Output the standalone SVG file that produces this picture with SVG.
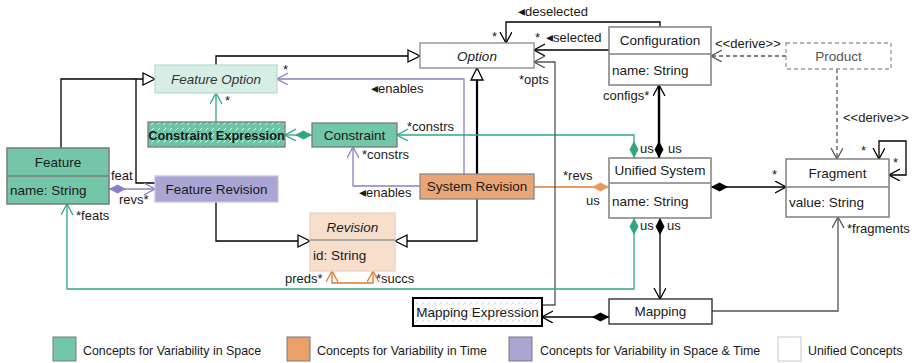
<svg xmlns="http://www.w3.org/2000/svg" width="918" height="363" viewBox="0 0 918 363">
<defs>
<style>
text{font-family:"Liberation Sans",Arial,sans-serif;font-size:13.5px;fill:#1a1a1a}
.c{text-anchor:middle}
.i{font-style:italic}
.b{font-weight:bold;font-size:12.8px}
.lbl{font-size:13px}
.tri{font-family:"DejaVu Sans",sans-serif;font-size:14px}
.leg{font-size:12.4px}
.ln{fill:none;stroke-width:1.3}
.k{stroke:#000}
.g{stroke:#2fa882}
.p{stroke:#8880c8}
.o{stroke:#e07a30}
.gr{stroke:#555}
</style>
<marker id="ak" markerUnits="userSpaceOnUse" markerWidth="12" markerHeight="14" refX="11" refY="6" orient="auto-start-reverse"><path d="M0,0 L11,6 L0,12" fill="none" stroke="#000" stroke-width="1.3"/></marker>
<marker id="ag" markerUnits="userSpaceOnUse" markerWidth="12" markerHeight="14" refX="11" refY="6" orient="auto-start-reverse"><path d="M0,0 L11,6 L0,12" fill="none" stroke="#2fa882" stroke-width="1.3"/></marker>
<marker id="ap" markerUnits="userSpaceOnUse" markerWidth="12" markerHeight="14" refX="11" refY="6" orient="auto-start-reverse"><path d="M0,0 L11,6 L0,12" fill="none" stroke="#8880c8" stroke-width="1.3"/></marker>
<marker id="ao" markerUnits="userSpaceOnUse" markerWidth="12" markerHeight="14" refX="11" refY="6" orient="auto-start-reverse"><path d="M0,0 L11,6 L0,12" fill="none" stroke="#e07a30" stroke-width="1.3"/></marker>
<marker id="agr" markerUnits="userSpaceOnUse" markerWidth="12" markerHeight="14" refX="11" refY="6" orient="auto-start-reverse"><path d="M0,0 L11,6 L0,12" fill="none" stroke="#555" stroke-width="1.3"/></marker>
<marker id="tr" markerUnits="userSpaceOnUse" markerWidth="15" markerHeight="16" refX="13" refY="7" orient="auto"><path d="M1,1 L13,7 L1,13 Z" fill="#fff" stroke="#000" stroke-width="1.3"/></marker>
<marker id="dk" markerUnits="userSpaceOnUse" markerWidth="18" markerHeight="12" refX="0" refY="5.5" orient="auto"><path d="M0,5.5 L8.5,1 L17,5.5 L8.5,10 Z" fill="#000"/></marker>
<marker id="dg" markerUnits="userSpaceOnUse" markerWidth="18" markerHeight="12" refX="0" refY="5.5" orient="auto"><path d="M0,5.5 L8.5,1 L17,5.5 L8.5,10 Z" fill="#2fa882"/></marker>
<marker id="dp" markerUnits="userSpaceOnUse" markerWidth="18" markerHeight="12" refX="0" refY="5.5" orient="auto"><path d="M0,5.5 L8.5,1 L17,5.5 L8.5,10 Z" fill="#8880c8"/></marker>
<marker id="do" markerUnits="userSpaceOnUse" markerWidth="18" markerHeight="12" refX="0" refY="5.5" orient="auto"><path d="M0,5.5 L8.5,1 L17,5.5 L8.5,10 Z" fill="#e8995e"/></marker>
<pattern id="hg" width="6" height="6" patternUnits="userSpaceOnUse"><rect width="6" height="6" fill="#6fc4a6"/><line x1="1.5" y1="4.5" x2="4" y2="2" stroke="#fff" stroke-width="0.9"/></pattern>
<pattern id="hw" width="6" height="6" patternUnits="userSpaceOnUse"><rect width="6" height="6" fill="#fff"/><line x1="1.5" y1="4.5" x2="4" y2="2" stroke="#c8c8c8" stroke-width="0.9"/></pattern>
</defs>
<rect width="918" height="363" fill="#fff"/>

<g id="connectors">
<path class="ln k" d="M61,148 V79 H155" marker-end="url(#tr)"/>
<path class="ln k" d="M155,183 H136 V79"/>
<path class="ln k" d="M216,65 V56 H420" marker-end="url(#tr)"/>
<path class="ln k" d="M216,202 V241 H310" marker-end="url(#tr)"/>
<path class="ln k" d="M477,199 V241 H395" marker-end="url(#tr)"/>
<path class="ln k" style="stroke-width:2.2" d="M477,174 V68" marker-end="url(#tr)"/>
<path class="ln p" d="M464,174 V79 H277" marker-end="url(#ap)"/>
<path class="ln g" d="M216,122 V93" marker-end="url(#ag)"/>
<path class="ln g" d="M312,135 H285" marker-start="url(#dg)" marker-end="url(#ag)"/>
<path class="ln g" d="M634,158 V135 H397" marker-start="url(#dg)" marker-end="url(#ag)"/>
<path class="ln p" d="M420,186 H353 V147" marker-end="url(#ap)"/>
<path class="ln p" d="M109,189 H155" marker-start="url(#dp)" marker-end="url(#ap)"/>
<path class="ln o" d="M332,271 V283 H373 V271" marker-start="url(#ao)" marker-end="url(#ao)"/>
<path class="ln o" d="M609,187 H534" marker-start="url(#do)"/>
<path class="ln k" style="stroke-width:2.4" d="M659,158 V85" marker-start="url(#dk)" marker-end="url(#ak)"/>
<path class="ln k" d="M660,27 V22 H506 V43" marker-end="url(#ak)"/>
<path class="ln k" d="M609,50 H534" marker-end="url(#ak)"/>
<path class="ln gr" d="M542,305 H555 V62 H534" marker-end="url(#agr)"/>
<path class="ln gr" style="stroke-dasharray:4,3" d="M786,56 H711" marker-end="url(#agr)"/>
<path class="ln gr" style="stroke-dasharray:4,3" d="M837,69 V159" marker-end="url(#agr)"/>
<path class="ln k" d="M879,159 V141 H906 V175 H889" marker-start="url(#ak)" marker-end="url(#ak)"/>
<path class="ln k" d="M711,187 H786" marker-start="url(#dk)" marker-end="url(#ak)"/>
<path class="ln g" d="M634,218 V289 H67 V204" marker-start="url(#dg)" marker-end="url(#ag)"/>
<path class="ln k" d="M660,218 V299" marker-start="url(#dk)" marker-end="url(#ak)"/>
<path class="ln gr" d="M712,311 H838 V217" marker-end="url(#agr)"/>
<path class="ln k" d="M609,317 H542" marker-start="url(#dk)" marker-end="url(#ak)"/>
</g>

<g id="labels">
<text class="lbl" x="283" y="74">*</text>
<text class="lbl" x="371" y="93"><tspan class="tri">◂</tspan>enables</text>
<text class="lbl" x="225" y="105">*</text>
<text class="lbl" x="407" y="131">*constrs</text>
<text class="lbl" x="362" y="159">*constrs</text>
<text class="lbl" x="359" y="197"><tspan class="tri">◂</tspan>enables</text>
<text class="lbl" x="111" y="180">feat</text>
<text class="lbl" x="119" y="204">revs*</text>
<text class="lbl" x="285" y="283">preds*</text>
<text class="lbl" x="376" y="283">*succs</text>
<text class="lbl" x="563" y="180">*revs</text>
<text class="lbl" x="586" y="205">us</text>
<text class="lbl" x="603" y="100">configs*</text>
<text class="lbl" x="640" y="153">us</text>
<text class="lbl" x="668" y="153">us</text>
<text class="lbl" x="640" y="230">us</text>
<text class="lbl" x="667" y="230">us</text>
<text class="lbl" x="518" y="16"><tspan class="tri">◂</tspan>deselected</text>
<text class="lbl" x="492" y="41">*</text>
<text class="lbl" x="535" y="42">*</text>
<text class="lbl" x="546" y="42"><tspan class="tri">◂</tspan>selected</text>
<text class="lbl" x="519" y="84">*opts</text>
<text class="lbl" x="715" y="48">&lt;&lt;derive&gt;&gt;</text>
<text class="lbl" x="843" y="122">&lt;&lt;derive&gt;&gt;</text>
<text class="lbl" x="772" y="179">*</text>
<text class="lbl" x="861" y="155">*</text>
<text class="lbl" x="893" y="167">*</text>
<text class="lbl" x="847" y="233">*fragments</text>
<text class="lbl" x="76" y="220">*feats</text>
</g>

<g id="option"><rect x="420" y="43" width="114" height="25" fill="#fff" stroke="#888" stroke-width="1.3"/><text class="c i" x="477" y="60.5">Option</text></g>
<g id="feature-option"><rect x="155" y="65" width="122" height="28" fill="#d7eee6" stroke="#bcdcd0" stroke-width="1.3"/><text class="c i" x="216" y="83.5" style="fill:#333">Feature Option</text></g>
<g id="constraint-expression"><rect x="148" y="122" width="137" height="25" fill="url(#hg)" stroke="#7a7a7a" stroke-width="1.3"/><text class="c b" x="216.5" y="139.5">Constraint Expression</text></g>
<g id="constraint"><rect x="312" y="123" width="85" height="24" fill="#74c6a9" stroke="#7a7a7a" stroke-width="1.3"/><text class="c" x="354.5" y="139.5">Constraint</text></g>
<g id="feature"><rect x="7" y="148" width="102" height="56" fill="#74c6a9" stroke="#7a7a7a" stroke-width="1.5"/><line x1="7" y1="176" x2="109" y2="176" stroke="#7a7a7a" stroke-width="1.5"/><text class="c" x="58" y="166.5">Feature</text><text x="10" y="195">name: String</text></g>
<g id="feature-revision"><rect x="155" y="176" width="123" height="26" fill="#aaa6d3" stroke="#c6c2e4" stroke-width="1.3"/><text class="c" x="216.5" y="193.5">Feature Revision</text></g>
<g id="system-revision"><rect x="420" y="174" width="114" height="25" fill="#e9a674" stroke="#888" stroke-width="1.3"/><text class="c" x="477" y="191">System Revision</text></g>
<g id="revision"><rect x="310" y="213" width="85" height="58" fill="#f8dfcc" stroke="#e6d2c4" stroke-width="1.3"/><line x1="310" y1="240" x2="395" y2="240" stroke="#999" stroke-width="1.5"/><text class="c i" x="352.5" y="231.5">Revision</text><text x="313" y="260">id: String</text></g>
<g id="configuration"><rect x="609" y="27" width="102" height="58" fill="#fff" stroke="#808080" stroke-width="1.5"/><line x1="609" y1="54" x2="711" y2="54" stroke="#808080" stroke-width="1.5"/><text class="c" x="660" y="45">Configuration</text><text x="612" y="75">name: String</text></g>
<g id="product"><rect x="786" y="43" width="105" height="26" fill="#fff" stroke="#999" stroke-width="1.3" stroke-dasharray="4,3"/><text class="c" x="838.5" y="60.5" style="fill:#555">Product</text></g>
<g id="unified-system"><rect x="609" y="158" width="102" height="60" fill="#fff" stroke="#808080" stroke-width="1.5"/><line x1="609" y1="183" x2="711" y2="183" stroke="#808080" stroke-width="1.5"/><text class="c" x="660" y="175">Unified System</text><text x="612" y="205.5">name: String</text></g>
<g id="fragment"><rect x="786" y="159" width="103" height="58" fill="#fff" stroke="#808080" stroke-width="1.5"/><line x1="786" y1="187" x2="889" y2="187" stroke="#808080" stroke-width="1.5"/><text class="c" x="837.5" y="177.5">Fragment</text><text x="789" y="206.5">value: String</text></g>
<g id="mapping"><rect x="609" y="299" width="103" height="25" fill="#fff" stroke="#222" stroke-width="1.3"/><text class="c" x="660.5" y="316">Mapping</text></g>
<g id="mapping-expression"><rect x="413" y="298" width="129" height="28" fill="url(#hw)" stroke="#000" stroke-width="2"/><text class="c" x="477.5" y="316.5">Mapping Expression</text></g>

<g id="legend">
<rect x="53" y="337" width="23" height="24" fill="#74c6a9" stroke="#7a7a7a" stroke-width="1"/>
<text class="leg" x="83" y="355">Concepts for Variability in Space</text>
<rect x="287" y="337" width="23" height="24" fill="#e9a06a" stroke="#7a7a7a" stroke-width="1"/>
<text class="leg" x="317" y="355">Concepts for Variability in Time</text>
<rect x="509" y="337" width="23" height="24" fill="#aaa6d3" stroke="#7a7a7a" stroke-width="1"/>
<text class="leg" x="540" y="355">Concepts for Variability in Space &amp; Time</text>
<rect x="778" y="337" width="23" height="24" fill="#fff" stroke="#c8c8c8" stroke-width="1"/>
<text class="leg" x="808" y="355">Unified Concepts</text>
</g>
</svg>
